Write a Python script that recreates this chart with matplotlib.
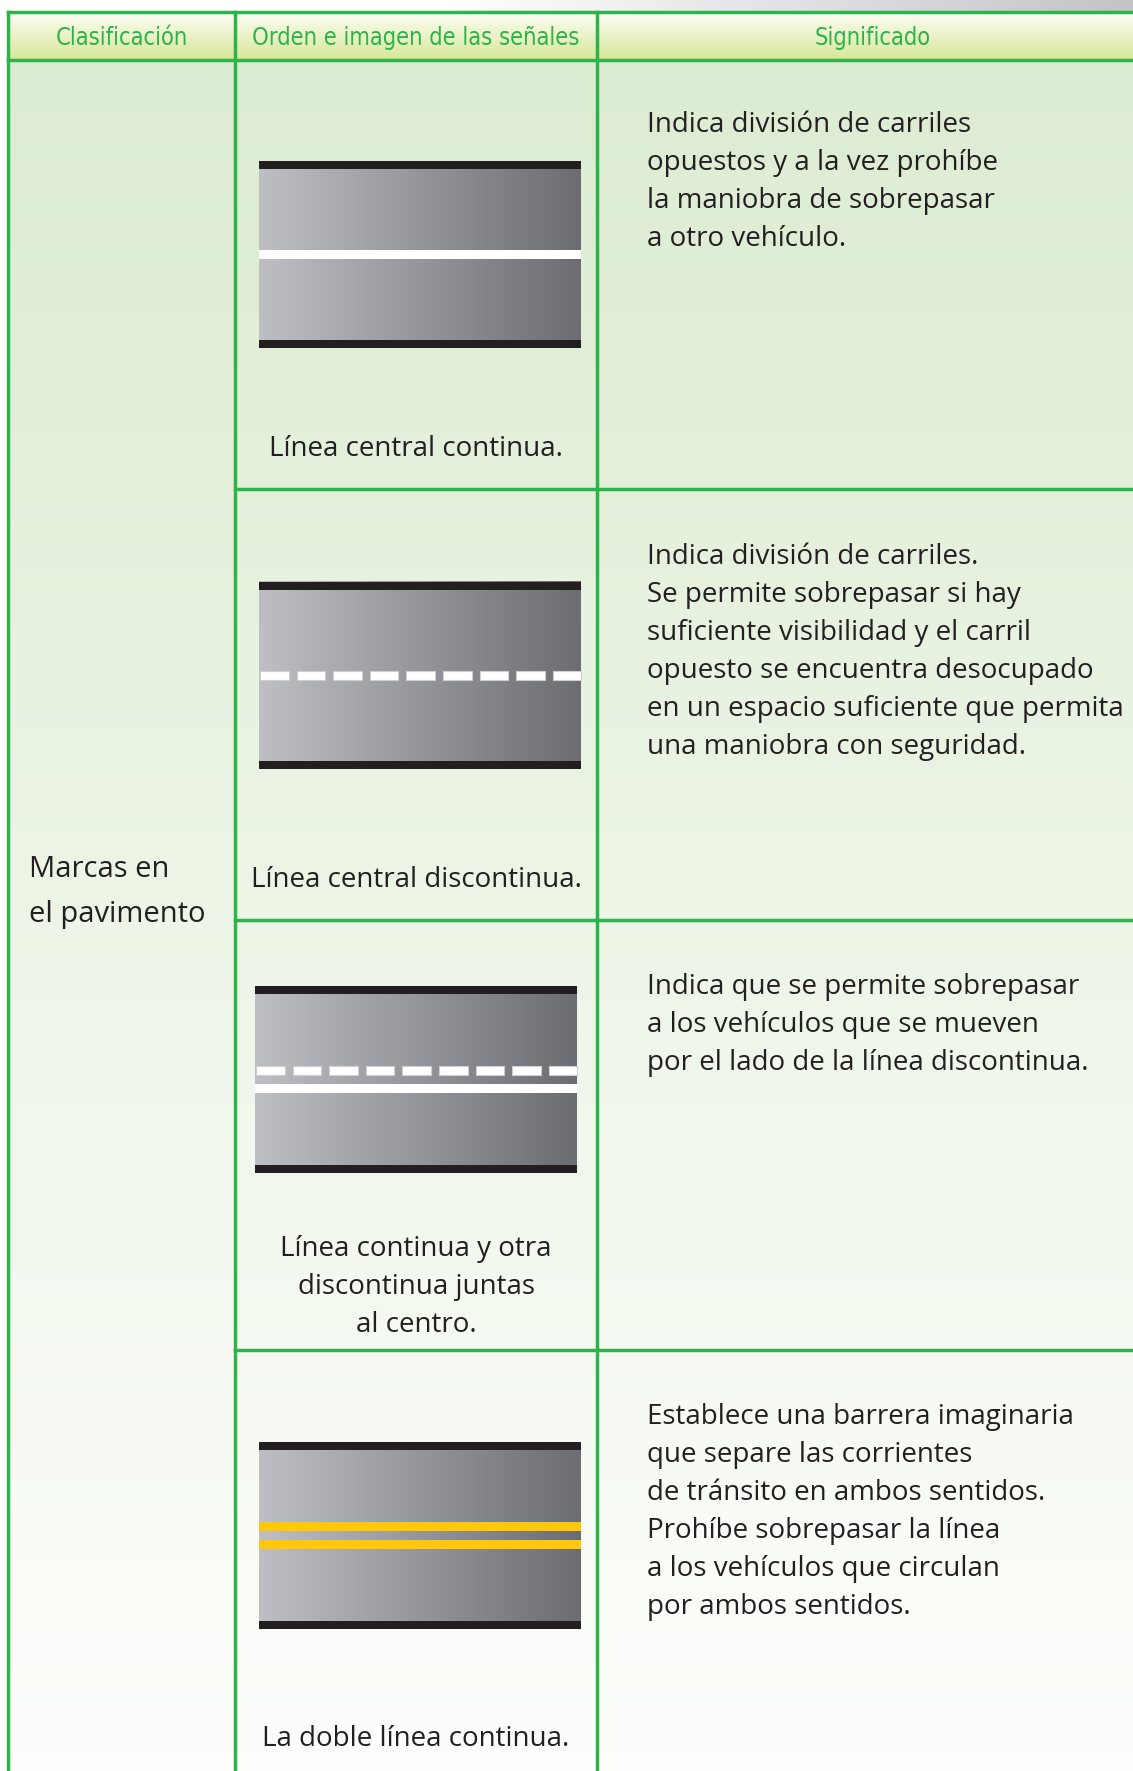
import numpy as np
import matplotlib.pyplot as plt
from matplotlib import font_manager
from matplotlib.patches import Rectangle

# table content
headers = ["Clasificación", "Orden e imagen de las señales", "Significado"]
classification = ["Marcas en", "el pavimento"]
marking_kinds = ["solid", "dashed", "dashed_solid", "double_yellow"]
captions = [
    ["Línea central continua."],
    ["Línea central discontinua."],
    ["Línea continua y otra", "discontinua juntas", "al centro."],
    ["La doble línea continua."],
]
descriptions = [
    ["Indica división de carriles",
     "opuestos y a la vez prohíbe",
     "la maniobra de sobrepasar",
     "a otro vehículo."],
    ["Indica división de carriles.",
     "Se permite sobrepasar si hay",
     "suficiente visibilidad y el carril",
     "opuesto se encuentra desocupado",
     "en un espacio suficiente que permita",
     "una maniobra con seguridad."],
    ["Indica que se permite sobrepasar",
     "a los vehículos que se mueven",
     "por el lado de la línea discontinua."],
    ["Establece una barrera imaginaria",
     "que separe las corrientes",
     "de tránsito en ambos sentidos.",
     "Prohíbe sobrepasar la línea",
     "a los vehículos que circulan",
     "por ambos sentidos."],
]

# layout (pixels)
W, H = 1133, 1771
col_x = [8, 235, 597]
head_top, head_bot = 12, 60
row_tops = [60, 489, 920, 1350]
road_tops = [161, 582, 986, 1442]
road_lefts = [259, 259, 255, 259]
road_w, road_h, edge = 322, 187, 8
caption_base = [456, 887, 1256, 1746]
desc_base = [132, 564, 994, 1424]
pitch = 38
green = "#2db34a"
ink = "#231f20"
body_font = ["Open Sans", "DejaVu Sans"]

# header uses a narrow face if one is installed
narrow = [f for f in font_manager.fontManager.ttflist
          if ("narrow" in f.name.lower() or "condensed" in f.name.lower()
              or f.stretch in ("condensed", "semi-condensed", "extra-condensed"))
          and f.style == "normal" and f.weight in (400, "normal", "regular")]
if narrow:
    head_prop = font_manager.FontProperties(fname=narrow[0].fname, size=17)
else:
    head_prop = font_manager.FontProperties(family=["Lato", "DejaVu Sans"], size=16)

fig = plt.figure(figsize=(W / 100, H / 100), dpi=100)
ax = fig.add_axes([0, 0, 1, 1])
ax.set_xlim(0, W)
ax.set_ylim(H, 0)
ax.axis("off")

# top strip
strip = np.clip((np.linspace(0, 1, 300) - 0.4) / 0.6, 0, 1)
c0, c1 = np.array([1.0, 1.0, 1.0]), np.array([195, 196, 200]) / 255
img = c0 + (c1 - c0) * strip[:, None]
ax.imshow(img[None, :, :], extent=(0, W, head_top, 0), aspect="auto")

# header gradient
t = np.linspace(0, 1, 100)[:, None]
top_c, bot_c = np.array([252, 254, 246]) / 255, np.array([216, 230, 152]) / 255
img = top_c + (bot_c - top_c) * t
ax.imshow(img[:, None, :], extent=(col_x[0], W, head_bot, head_top), aspect="auto")

# body gradient
top_c, bot_c = np.array([220, 236, 210]) / 255, np.array([253, 254, 252]) / 255
img = top_c + (bot_c - top_c) * t
ax.imshow(img[:, None, :], extent=(col_x[0], W, H, head_bot), aspect="auto")

# grid lines
ax.plot([col_x[0], W], [head_top, head_top], color=green, lw=2.5)
ax.plot([col_x[0], W], [head_bot, head_bot], color=green, lw=2.5)
for x in col_x:
    ax.plot([x, x], [head_top, H], color=green, lw=2.5)
for y in row_tops[1:]:
    ax.plot([col_x[1], W], [y, y], color=green, lw=2.5)

# header text
head_cx = [121.5, 416, 873]
for cx, label in zip(head_cx, headers):
    ax.text(cx, 45, label, ha="center", va="baseline", color=green,
            fontproperties=head_prop)

ax.text(29, 877, classification[0], va="baseline", color=ink, fontsize=21, family=body_font)
ax.text(29, 922, classification[1], va="baseline", color=ink, fontsize=21, family=body_font)

# road gradient
g = np.linspace(0, 1, 200)[None, :, None]
gl, gr = np.array([190, 191, 196]) / 255, np.array([108, 109, 114]) / 255
road_img = gl + (gr - gl) * g


def hband(x0, yc, h, color):
    ax.add_patch(Rectangle((x0, yc - h / 2), road_w, h, color=color, lw=0))


def dashes(x0, yc):
    period, length = 36.6, 28.5
    for xs in np.arange(x0 + 1, x0 + road_w, period):
        xe = min(xs + length, x0 + road_w)
        ax.add_patch(Rectangle((xs, yc - 4.5), xe - xs, 9, facecolor="white",
                               edgecolor="#cfcfd2", lw=0.8))


for kind, top, left in zip(marking_kinds, road_tops, road_lefts):
    bot = top + road_h
    ax.imshow(road_img, extent=(left, left + road_w, bot, top), aspect="auto")
    ax.add_patch(Rectangle((left, top), road_w, edge, color="#231f20", lw=0))
    ax.add_patch(Rectangle((left, bot - edge), road_w, edge, color="#231f20", lw=0))
    mid = (top + bot) / 2
    if kind == "solid":
        hband(left, mid, 9, "white")
    elif kind == "dashed":
        dashes(left, mid)
    elif kind == "dashed_solid":
        dashes(left, mid - 9)
        hband(left, mid + 9, 9, "white")
    elif kind == "double_yellow":
        hband(left, mid - 9, 9, "#ffc80a")
        hband(left, mid + 9, 9, "#ffc80a")

for lines, y0 in zip(captions, caption_base):
    for i, line in enumerate(lines):
        ax.text(416, y0 + i * pitch, line, ha="center", va="baseline",
                color=ink, fontsize=20, family=body_font)

for lines, y0 in zip(descriptions, desc_base):
    for i, line in enumerate(lines):
        ax.text(647, y0 + i * pitch, line, ha="left", va="baseline",
                color=ink, fontsize=20, family=body_font)

fig.savefig("out.png", dpi=100)
